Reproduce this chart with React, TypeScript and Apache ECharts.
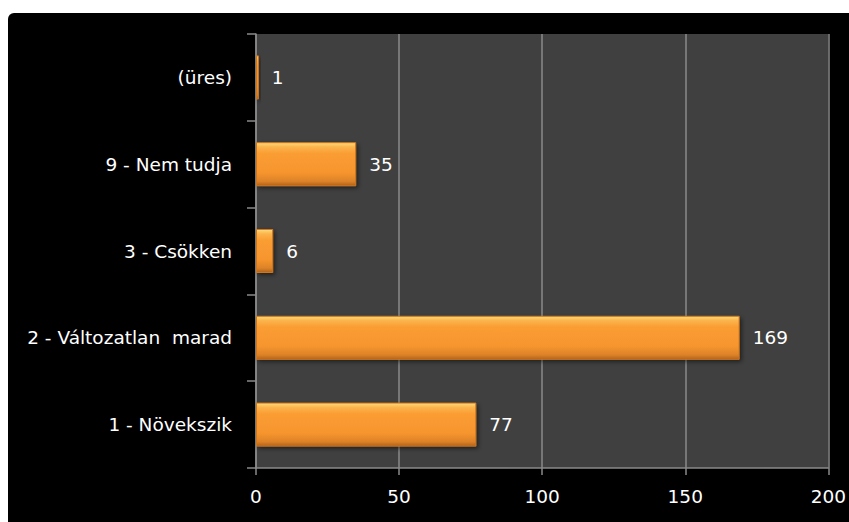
import React, { useEffect, useRef } from "react";
import * as echarts from "echarts";

const categories = ["(üres)", "9 - Nem tudja", "3 - Csökken", "2 - Változatlan  marad", "1 - Növekszik"];
const values = [1, 35, 6, 169, 77];
const xTicks = [0, 50, 100, 150, 200];

export default function App() {
  const ref = useRef<HTMLDivElement>(null);
  useEffect(() => {
    if (!ref.current) return;
    const chart = echarts.init(ref.current, null, { renderer: "svg" });
    const font = "'DejaVu Sans', sans-serif";
    chart.setOption({
      animation: false,
      backgroundColor: "#000000",
      grid: {
        left: 248,
        right: 17,
        top: 21,
        bottom: 54,
        show: true,
        backgroundColor: "#404040",
        borderWidth: 0,
      },
      xAxis: {
        type: "value",
        min: xTicks[0],
        max: xTicks[xTicks.length - 1],
        interval: 50,
        axisLine: { show: true, lineStyle: { color: "#8a8a8a", width: 1.5 } },
        axisTick: { show: true, length: 7, lineStyle: { color: "#8a8a8a", width: 1.5 } },
        splitLine: { show: true, lineStyle: { color: "#8a8a8a", width: 1.5 } },
        axisLabel: { color: "#ffffff", fontSize: 18.5, fontFamily: font, margin: 19 },
      },
      yAxis: {
        type: "category",
        data: categories,
        inverse: true,
        axisLine: { show: true, lineStyle: { color: "#8a8a8a", width: 1.5 } },
        axisTick: { show: true, length: 9, lineStyle: { color: "#8a8a8a", width: 1.5 } },
        splitLine: { show: false },
        axisLabel: { color: "#ffffff", fontSize: 18.5, fontFamily: font, margin: 24 },
      },
      series: [
        {
          type: "bar",
          data: values,
          barWidth: 44,
          itemStyle: {
            color: new echarts.graphic.LinearGradient(0, 0, 0, 1, [
              { offset: 0, color: "#fedb7a" },
              { offset: 0.1, color: "#fcb44c" },
              { offset: 0.25, color: "#fa9d33" },
              { offset: 0.7, color: "#f6952e" },
              { offset: 0.9, color: "#dc8228" },
              { offset: 1, color: "#b0621c" },
            ]),
            borderColor: "#d0761f",
            borderWidth: 1,
            shadowColor: "rgba(0,0,0,0.5)",
            shadowBlur: 4,
            shadowOffsetX: 2,
            shadowOffsetY: 2,
          },
          label: {
            show: true,
            position: "right",
            distance: 13,
            color: "#ffffff",
            fontSize: 18.5,
            fontFamily: font,
          },
        },
      ],
    });
    return () => chart.dispose();
  }, []);
  return (
    <div style={{ position: "fixed", left: 0, top: 0, width: 849, height: 522, background: "#ffffff" }}>
      <div
        ref={ref}
        style={{ position: "absolute", left: 8, top: 13, width: 841, height: 509, borderTopLeftRadius: 6, overflow: "hidden" }}
      />
    </div>
  );
}
